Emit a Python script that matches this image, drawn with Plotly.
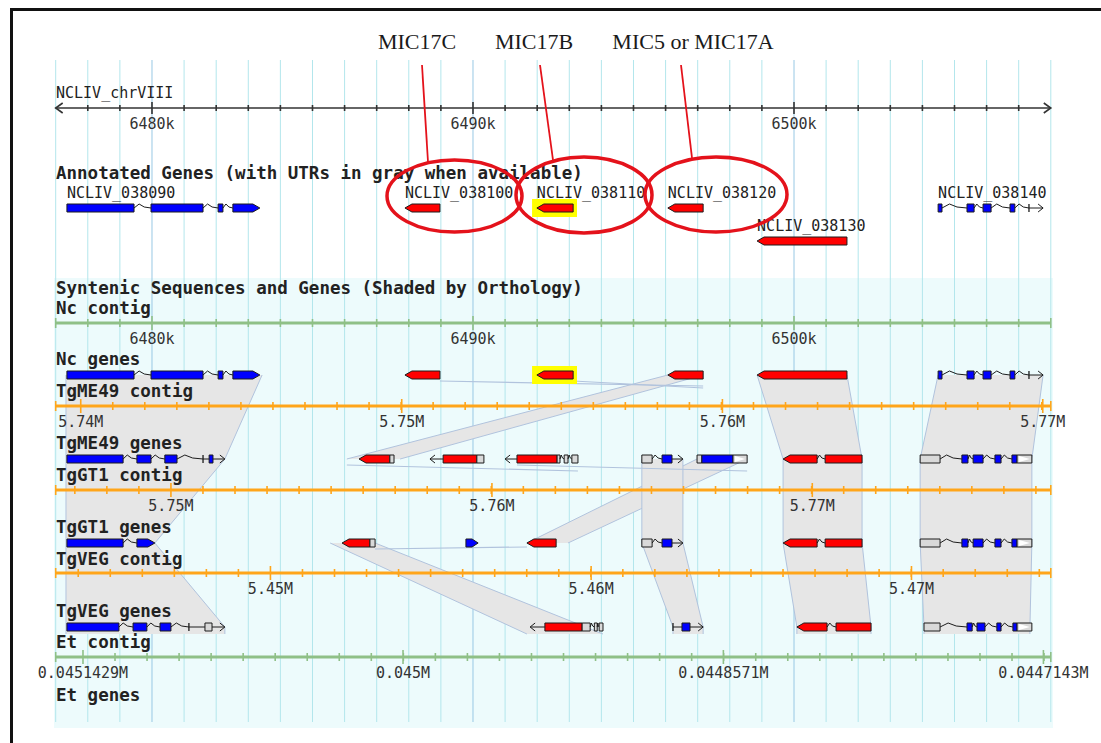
import plotly.graph_objects as go

# ------------------------------------------------------------------
# Data. Every track is drawn on the Nc chrVIII window (kb); the other
# contigs carry their own scales through their tick marks and labels.
# ------------------------------------------------------------------
X_RANGE = (6475.265, 6509.564)          # visible Nc window, kb

NC_SPAN = (6477.0, 6508.0)
NC_TICKS_KB = list(range(6478, 6508))
NC_MAJOR_KB = [6480, 6490, 6500]
NC_MAJOR_LABELS = ["6480k", "6490k", "6500k"]
GRID_KB = list(range(6477, 6509))

TGME49_MAJOR_KB = [6477.78, 6487.78, 6497.77, 6507.75]
TGME49_LABELS = ["5.74M", "5.75M", "5.76M", "5.77M"]
TGGT1_MAJOR_KB = [6480.59, 6490.59, 6500.57]
TGGT1_LABELS = ["5.75M", "5.76M", "5.77M"]
TGVEG_MAJOR_KB = [6483.69, 6493.68, 6503.66]
TGVEG_LABELS = ["5.45M", "5.46M", "5.47M"]
ET_MAJOR_KB = [6477.85, 6487.82, 6497.80, 6507.77]
ET_LABELS = ["0.0451429M", "0.045M", "0.0448571M", "0.0447143M"]
MINOR_STEP_KB = 0.998

# gene models: (colour, [(part, start_kb, end_kb), ...])
ANNOT_IDS = ["NCLIV_038090", "NCLIV_038100", "NCLIV_038110",
             "NCLIV_038120", "NCLIV_038130", "NCLIV_038140"]
NC_MODELS = [
    ("blue", [("cds", 6477.35, 6479.44), ("intron", 6479.44, 6479.97),
              ("cds", 6479.97, 6481.59), ("intron", 6481.59, 6482.06),
              ("cds", 6482.06, 6482.21), ("intron", 6482.21, 6482.52),
              ("cds>", 6482.52, 6483.36)]),
    ("red", [("cds<", 6487.88, 6488.97)]),
    ("red", [("cds<", 6491.99, 6493.12)]),
    ("red", [("cds<", 6496.07, 6497.17)]),
    ("red", [("cds<", 6498.85, 6501.65)]),
    ("blue", [("cds", 6504.49, 6504.61), ("intron", 6504.61, 6505.39),
              ("cds", 6505.39, 6505.61), ("intron", 6505.61, 6505.89),
              ("cds", 6505.89, 6506.14), ("intron", 6506.14, 6506.73),
              ("cds", 6506.73, 6506.88), ("intron", 6506.88, 6507.32),
              ("|", 6507.32, 6507.32), ("->", 6507.32, 6507.76)]),
]
HIGHLIGHT_KB = (6491.84, 6493.24)       # NCLIV_038110

TG_RIGHT_GENE = ("blue", [("utr", 6503.93, 6504.55), ("intron", 6504.55, 6505.23),
                          ("cds", 6505.23, 6505.42), ("intron", 6505.42, 6505.58),
                          ("cds", 6505.58, 6505.89), ("intron", 6505.89, 6506.26),
                          ("cds", 6506.26, 6506.45), ("intron", 6506.45, 6506.79),
                          ("cds", 6506.79, 6506.95), ("utr>", 6506.95, 6507.41)])
TG_MIC_PAIR = ("red", [("cds<", 6499.66, 6500.72), ("intron", 6500.72, 6500.97),
                       ("cds", 6500.97, 6502.12)])
TG_SMALL_FWD = ("blue", [("utr", 6495.26, 6495.58), ("intron", 6495.58, 6495.89),
                         ("cds", 6495.89, 6496.20), ("->", 6496.20, 6496.54)])

TGME49_MODELS = [
    ("blue", [("cds", 6477.35, 6479.10), ("intron", 6479.10, 6479.53),
              ("cds", 6479.53, 6479.97), ("intron", 6479.97, 6480.40),
              ("cds", 6480.40, 6480.78), ("intron", 6480.78, 6481.59),
              ("|", 6481.59, 6481.59), ("line", 6481.59, 6481.78),
              ("cds", 6481.78, 6481.90), ("->", 6481.90, 6482.27)]),
    ("red", [("cds<", 6486.45, 6487.41), ("utr", 6487.41, 6487.54)]),
    ("red", [("<-", 6488.66, 6489.07), ("cds", 6489.07, 6490.12),
             ("utr", 6490.12, 6490.34)]),
    ("red", [("<-", 6491.00, 6491.37), ("cds", 6491.37, 6492.62),
             ("utr", 6492.62, 6492.71), ("intron", 6492.71, 6492.84),
             ("utr", 6492.84, 6492.96), ("intron", 6492.96, 6493.08),
             ("utr", 6493.08, 6493.27)]),
    TG_SMALL_FWD,
    ("blue", [("utr", 6496.98, 6497.13), ("cds", 6497.13, 6498.10),
              ("utr>", 6498.10, 6498.54)]),
    TG_MIC_PAIR,
    TG_RIGHT_GENE,
]
TGGT1_MODELS = [
    ("blue", [("cds", 6477.35, 6479.10), ("intron", 6479.10, 6479.53),
              ("cds>", 6479.53, 6480.09)]),
    ("red", [("cds<", 6485.92, 6486.79), ("utr", 6486.79, 6486.95)]),
    ("blue", [("cds>", 6489.78, 6490.16)]),
    ("red", [("cds<", 6491.68, 6492.59)]),
    TG_SMALL_FWD,
    TG_MIC_PAIR,
    TG_RIGHT_GENE,
]
TGVEG_MODELS = [
    ("blue", [("cds", 6477.35, 6478.97), ("intron", 6478.97, 6479.41),
              ("cds", 6479.41, 6479.84), ("intron", 6479.84, 6480.25),
              ("cds", 6480.25, 6480.59), ("intron", 6480.59, 6481.15),
              ("|", 6481.15, 6481.15), ("line", 6481.15, 6481.65),
              ("utr", 6481.65, 6481.87), ("->", 6481.87, 6482.27)]),
    ("red", [("<-", 6491.78, 6492.24), ("cds", 6492.24, 6493.40),
             ("utr", 6493.40, 6493.65), ("intron", 6493.65, 6493.78),
             ("utr", 6493.78, 6493.87), ("intron", 6493.87, 6493.93),
             ("utr", 6493.93, 6494.05)]),
    ("blue", [("|", 6496.23, 6496.23), ("line", 6496.23, 6496.51),
              ("cds", 6496.51, 6496.76), ("->", 6496.76, 6497.17)]),
    ("red", [("cds<", 6500.09, 6501.03), ("intron", 6501.03, 6501.31),
             ("cds", 6501.31, 6502.40)]),
    ("blue", [("utr", 6504.05, 6504.55), ("intron", 6504.55, 6505.39),
              ("cds", 6505.39, 6505.55), ("intron", 6505.55, 6505.70),
              ("cds", 6505.70, 6505.95), ("intron", 6505.95, 6506.32),
              ("cds", 6506.32, 6506.45), ("intron", 6506.45, 6506.82),
              ("cds", 6506.82, 6506.95), ("utr>", 6506.95, 6507.41)]),
]

# orthology shading: per block, (track, left_kb, right_kb) from top to bottom
SYN_BLOCKS = [
    [("nc", 6477.32, 6483.43), ("me49", 6477.32, 6482.27), ("gt1", 6477.32, 6480.09),
     ("veg", 6477.32, 6482.27), ("veg_end", 6477.32, 6482.27)],
    [("nc", 6496.07, 6497.17), ("me49", 6486.07, 6487.73)],
    [("me49", 6496.98, 6498.54), ("gt1", 6491.68, 6492.96)],
    [("me49", 6495.26, 6496.54), ("gt1", 6495.26, 6496.54),
     ("veg", 6496.23, 6497.17), ("veg_end", 6496.23, 6497.17)],
    [("gt1", 6485.55, 6486.95), ("veg_end", 6491.68, 6494.05)],
    [("nc", 6498.85, 6501.65), ("me49", 6499.66, 6502.12), ("gt1", 6499.66, 6502.12),
     ("veg", 6500.09, 6502.40), ("veg_end", 6500.09, 6502.40)],
    [("nc", 6504.49, 6507.76), ("me49", 6503.93, 6507.41), ("gt1", 6503.93, 6507.41),
     ("veg", 6504.05, 6507.35), ("veg_end", 6504.05, 6507.35)],
]
# thin orthology slivers: (track, start_kb, end_kb)
SYN_SLIVERS = [("nc", 6488.97, 6497.17), ("nc", 6493.12, 6497.17),
               ("me49", 6486.07, 6493.27), ("me49", 6491.37, 6498.54),
               ("gt1", 6486.95, 6491.68)]

CALLOUT_LABELS = ["MIC17C", "MIC17B", "MIC5 or MIC17A"]

# ------------------------------------------------------------------
# Layout (pixels of the 1101 x 743 page; the y axis is in pixels)
# ------------------------------------------------------------------
W, H_PAGE = 1101, 743
KPX = (X_RANGE[1] - X_RANGE[0]) / W


def px(v):
    return X_RANGE[0] + v * KPX


ROW_Y = {"annot": 208, "annot2": 241, "nc": 375, "me49": 459, "gt1": 543,
         "veg": 627, "veg_end": 634}
SLIVER_DY = {"nc": (6, 11), "nc2": (6, 13), "me49": (6, 12), "gt1": (6, 4)}
MONO = "DejaVu Sans Mono"
SERIF = "Liberation Serif"
TXT = "#222222"
RED, BLUE = "#ff0000", "#0000ff"
UTR_FILL = "#d9d9d9"
EDGE = "#1c1c1c"
GREEN, ORANGE = "#8fc087", "#ffa51a"
GRID, GRID_MAJOR = "#b3e6ec", "#98c8e4"
SYN_FILL, SYN_EDGE = "#e6e6e6", "#b1c3dd"
TEXT_DY = 2            # scatter text sits slightly high; nudge down

shapes = []
above = []


def P(x, y):
    return f"{x:.4f},{y:.2f}"


def poly(pts, fill, edge=None, width=1, target=None):
    d = "M" + " L".join(P(x, y) for x, y in pts) + " Z"
    s = dict(type="path", path=d, xref="x", yref="y", layer="below",
             fillcolor=fill, line=dict(color=edge or fill, width=width if edge else 0))
    (target if target is not None else shapes).append(s)


def polyline(pts, color, width=1, target=None, layer="below"):
    d = "M" + " L".join(P(x, y) for x, y in pts)
    s = dict(type="path", path=d, xref="x", yref="y", layer=layer,
             line=dict(color=color, width=width))
    (target if target is not None else shapes).append(s)


# white page with the cyan synteny panel and the 1 kb grid
poly([(px(54), 278), (px(1053), 278), (px(1053), 728), (px(54), 728)], "#edfbfc")
for g in GRID_KB:
    polyline([(g, 60), (g, 722)], GRID_MAJOR if g in NC_MAJOR_KB else GRID, 1)

# frame
polyline([(px(10), 9.5), (px(W), 9.5)], "#111111", 3)
polyline([(px(11.5), 8), (px(11.5), H_PAGE)], "#111111", 3)

# orthology shading
for block in SYN_BLOCKS:
    left = [(l, ROW_Y[t]) for t, l, r in block]
    right = [(r, ROW_Y[t]) for t, l, r in block]
    poly(left + right[::-1], SYN_FILL)
    polyline(left, SYN_EDGE, 1)
    polyline(right, SYN_EDGE, 1)
for i, (t, a, b) in enumerate(SYN_SLIVERS):
    key = "nc2" if (t == "nc" and i == 1) else t
    dy0, dy1 = SLIVER_DY[key]
    polyline([(a, ROW_Y[t] + dy0), (b, ROW_Y[t] + dy1)], SYN_EDGE, 1.2)


# rulers
def minor_ticks(majors):
    out, k = [], -12
    while majors[0] + k * MINOR_STEP_KB <= NC_SPAN[1] + 1e-6:
        v = majors[0] + k * MINOR_STEP_KB
        if v >= NC_SPAN[0] - 1e-6:
            out.append(v)
        k += 1
    return out


def ruler(y, color, width, minors, majors, minor_len, major_len, ends=True):
    polyline([(NC_SPAN[0], y), (NC_SPAN[1], y)], color, width)
    d = []
    for v in minors:
        d.append(f"M{P(v, y - minor_len)} L{P(v, y + minor_len)}")
    for v in majors:
        d.append(f"M{P(v, y - major_len)} L{P(v, y + major_len)}")
    if ends:
        for v in NC_SPAN:
            d.append(f"M{P(v, y - minor_len - 1)} L{P(v, y + minor_len + 1)}")
    shapes.append(dict(type="path", path=" ".join(d), xref="x", yref="y",
                       layer="below", line=dict(color=color, width=1.6)))


CHR_Y = 108
ruler(CHR_Y, "#333333", 1.6, NC_TICKS_KB, NC_MAJOR_KB, 3, 6, ends=False)
ah = 7 * KPX
polyline([(NC_SPAN[0] + ah, CHR_Y - 5), (NC_SPAN[0], CHR_Y), (NC_SPAN[0] + ah, CHR_Y + 5)], "#333333", 1.6)
polyline([(NC_SPAN[1] - ah, CHR_Y - 5), (NC_SPAN[1], CHR_Y), (NC_SPAN[1] - ah, CHR_Y + 5)], "#333333", 1.6)

CONTIGS = [
    (323, GREEN, NC_TICKS_KB, NC_MAJOR_KB, NC_MAJOR_LABELS),
    (406, ORANGE, minor_ticks(TGME49_MAJOR_KB), TGME49_MAJOR_KB, TGME49_LABELS),
    (490, ORANGE, minor_ticks(TGGT1_MAJOR_KB), TGGT1_MAJOR_KB, TGGT1_LABELS),
    (573, ORANGE, minor_ticks(TGVEG_MAJOR_KB), TGVEG_MAJOR_KB, TGVEG_LABELS),
    (657, GREEN, minor_ticks(ET_MAJOR_KB), ET_MAJOR_KB, ET_LABELS),
]
for y, col, mins, majs, _ in CONTIGS:
    ruler(y, col, 3, mins, majs, 4, 7)

# highlight behind NCLIV_038110
for yc in (ROW_Y["annot"], ROW_Y["nc"]):
    poly([(HIGHLIGHT_KB[0], yc - 9), (HIGHLIGHT_KB[1], yc - 9),
          (HIGHLIGHT_KB[1], yc + 9), (HIGHLIGHT_KB[0], yc + 9)], "#ffff00")

# gene glyphs
GH = 4
TIP = 7 * KPX
HEAD = 5 * KPX


def draw_part(kind, a, b, yc, fill):
    if kind == "cds":
        poly([(a, yc - GH), (b, yc - GH), (b, yc + GH), (a, yc + GH)], fill, EDGE)
    elif kind == "cds<":
        t = min(TIP, (b - a) * 0.5)
        poly([(a, yc), (a + t, yc - GH), (b, yc - GH), (b, yc + GH), (a + t, yc + GH)], fill, EDGE)
    elif kind == "cds>":
        t = min(TIP, (b - a) * 0.5)
        poly([(a, yc - GH), (b - t, yc - GH), (b, yc), (b - t, yc + GH), (a, yc + GH)], fill, EDGE)
    elif kind == "utr":
        poly([(a, yc - GH), (b, yc - GH), (b, yc + GH), (a, yc + GH)], UTR_FILL, EDGE)
    elif kind == "utr>":
        poly([(a, yc - GH), (b, yc - GH), (b, yc + GH), (a, yc + GH)], UTR_FILL, EDGE)
        m = 2 * KPX
        poly([(a + m, yc - 3), (b - m, yc), (a + m, yc + 3)], "#ffffff")
    elif kind == "intron":
        w = b - a
        polyline([(a, yc), (a + 0.3 * w, yc - 4), (a + 0.6 * w, yc - 1), (b, yc)], EDGE, 1)
    elif kind == "line":
        polyline([(a, yc), (b, yc)], EDGE, 1)
    elif kind == "->":
        polyline([(a, yc), (b, yc)], EDGE, 1)
        polyline([(b - HEAD, yc - 4), (b, yc), (b - HEAD, yc + 4)], EDGE, 1)
    elif kind == "<-":
        polyline([(a, yc), (b, yc)], EDGE, 1)
        polyline([(a + HEAD, yc - 4), (a, yc), (a + HEAD, yc + 4)], EDGE, 1)
    elif kind == "|":
        polyline([(a, yc - 4), (a, yc + 4)], EDGE, 1.3)


def draw_gene(model, yc):
    colour, parts = model
    fill = RED if colour == "red" else BLUE
    for kind, a, b in parts:
        draw_part(kind, a, b, yc, fill)


ANNOT_LANE = {"NCLIV_038130": "annot2"}
for gid, model in zip(ANNOT_IDS, NC_MODELS):
    draw_gene(model, ROW_Y[ANNOT_LANE.get(gid, "annot")])
for model in NC_MODELS:
    draw_gene(model, ROW_Y["nc"])
for model in TGME49_MODELS:
    draw_gene(model, ROW_Y["me49"])
for model in TGGT1_MODELS:
    draw_gene(model, ROW_Y["gt1"])
for model in TGVEG_MODELS:
    draw_gene(model, ROW_Y["veg"])

# call-out rings and leader lines (drawn over text)
RING = "#e4121b"
RINGS = [(387, 522, 160, 232), (516, 652, 157, 233), (645, 787, 157, 232)]
for x0, x1, y0, y1 in RINGS:
    above.append(dict(type="circle", xref="x", yref="y", layer="above",
                      x0=px(x0), x1=px(x1), y0=y0, y1=y1,
                      line=dict(color=RING, width=3.5)))
LEADERS = [((422, 65), (428, 162)), ((540, 65), (553, 160)), ((681, 65), (692, 158))]
for (xa, ya), (xb, yb) in LEADERS:
    polyline([(px(xa), ya), (px(xb), yb)], RING, 1.8, target=above, layer="above")

# ------------------------------------------------------------------
# Text
# ------------------------------------------------------------------
traces = []


def text_trace(xs, ys, texts, size, pos, family=MONO, weight="normal", color=TXT):
    traces.append(go.Scatter(x=xs, y=[y + TEXT_DY for y in ys], text=texts, mode="text",
                             textposition=pos,
                             textfont=dict(family=family, size=size, color=color, weight=weight),
                             hoverinfo="skip", showlegend=False, cliponaxis=False))


LEFT = px(56)
TITLES = [("Annotated Genes (with UTRs in gray when available)", 173),
          ("Syntenic Sequences and Genes (Shaded by Orthology)", 288),
          ("Nc contig", 308), ("Nc genes", 359), ("TgME49 contig", 391),
          ("TgME49 genes", 443), ("TgGT1 contig", 475), ("TgGT1 genes", 527),
          ("TgVEG contig", 559), ("TgVEG genes", 611), ("Et contig", 642),
          ("Et genes", 695)]
text_trace([LEFT] * len(TITLES), [y for _, y in TITLES], [t for t, _ in TITLES],
           17.5, "middle right", weight="bold")
text_trace([LEFT], [92], ["NCLIV_chrVIII"], 15, "middle right")

# gene names in the annotated track
gx, gy, gt = [], [], []
for gid, (_, parts) in zip(ANNOT_IDS, NC_MODELS):
    lane = ANNOT_LANE.get(gid, "annot")
    gx.append(parts[0][1])
    gy.append(ROW_Y[lane] - 16)
    gt.append(gid)
text_trace(gx, gy, gt, 15, "middle right")

# ruler labels
tx, ty, tt = list(NC_MAJOR_KB), [CHR_Y + 15] * 3, list(NC_MAJOR_LABELS)
for y, _, _, majs, labs in CONTIGS:
    tx += list(majs)
    ty += [y + 15] * len(majs)
    tt += list(labs)
text_trace(tx, ty, tt, 15, "middle center", color="#333333")

# call-out names
text_trace([px(417), px(534), px(693)], [41, 41, 41], CALLOUT_LABELS, 22,
           "middle center", family=SERIF, color="#1a1a1a")

fig = go.Figure(traces)
fig.update_layout(
    width=W, height=H_PAGE,
    margin=dict(l=0, r=0, t=0, b=0),
    paper_bgcolor="#ffffff", plot_bgcolor="#ffffff",
    xaxis=dict(range=list(X_RANGE), visible=False, fixedrange=True),
    yaxis=dict(range=[H_PAGE, 0], visible=False, fixedrange=True),
    shapes=shapes + above,
    showlegend=False,
)
fig.write_html("out.html", config={"displayModeBar": False})
